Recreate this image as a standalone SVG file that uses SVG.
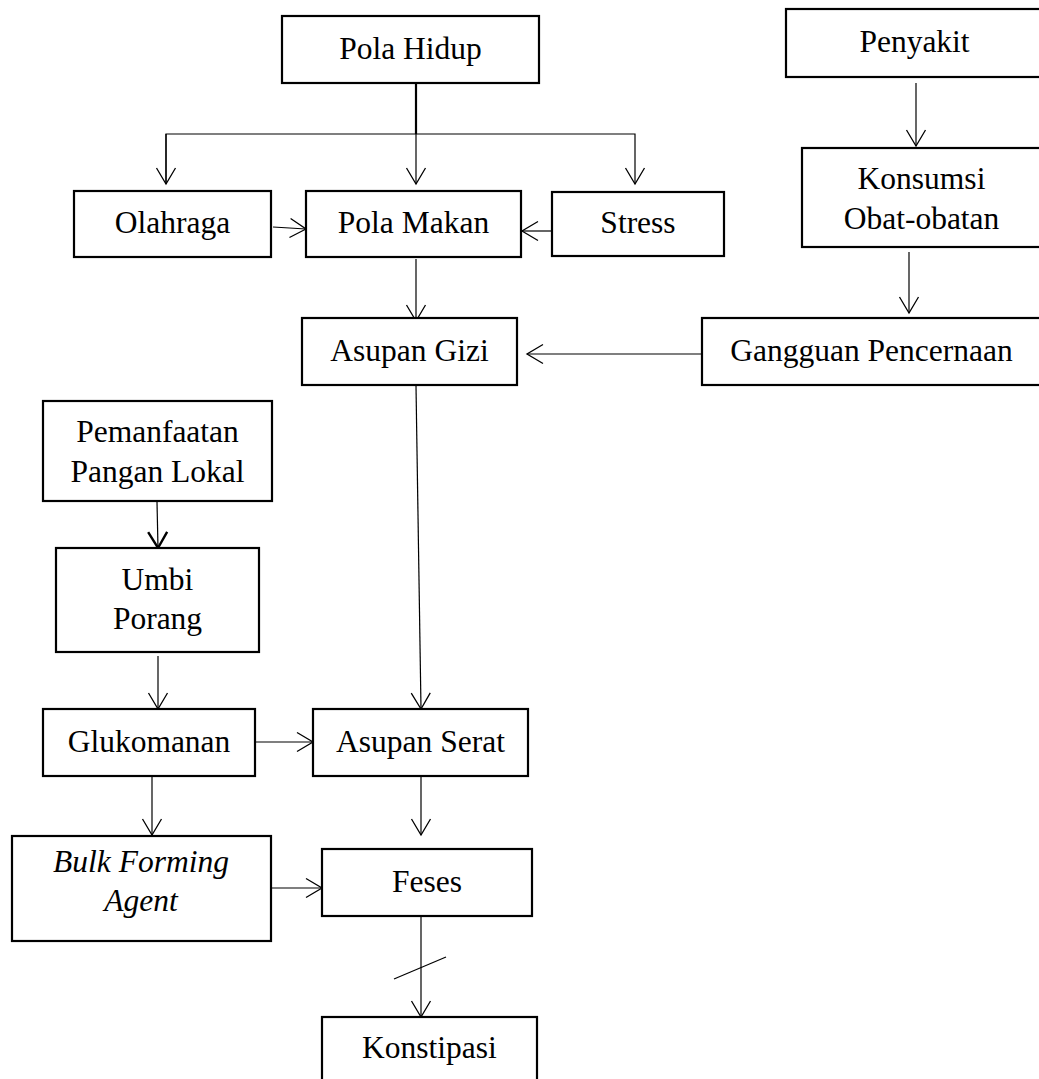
<svg xmlns="http://www.w3.org/2000/svg" width="1039" height="1079" viewBox="0 0 1039 1079">
<style>
.box{fill:#fff;stroke:#000;stroke-width:2.2}
.t{font-family:"Liberation Serif","Times New Roman",serif;font-size:31.5px;fill:#000;text-anchor:middle}
.i{font-style:italic}
.c{fill:none;stroke:#000;stroke-width:1.2}
</style>
<defs>
<marker id="ah" markerWidth="22" markerHeight="26" viewBox="-19 -13 22 26" refX="0" refY="0" orient="auto" markerUnits="userSpaceOnUse">
<path d="M-16,-9.5 L0,0 L-16,9.5" fill="none" stroke="#000" stroke-width="1.3"/>
</marker>
<marker id="ahb" markerWidth="22" markerHeight="26" viewBox="-19 -13 22 26" refX="0" refY="0" orient="auto" markerUnits="userSpaceOnUse">
<path d="M-16,-9.5 L0,0 L-16,9.5" fill="none" stroke="#000" stroke-width="2.4"/>
</marker>
</defs>
<rect width="1039" height="1079" fill="#fff"/>
<g id="connectors">
<line x1="416" y1="83" x2="416" y2="134" stroke="#000" stroke-width="2.2"/>
<polyline class="c" points="166,184 166,134 635,134 635,184" marker-end="url(#ah)"/>
<line class="c" x1="166" y1="134" x2="166" y2="184" marker-end="url(#ah)"/>
<line class="c" x1="416" y1="134" x2="416" y2="184" marker-end="url(#ah)"/>
<line class="c" x1="273" y1="227" x2="306" y2="229" marker-end="url(#ah)"/>
<line class="c" x1="552" y1="231" x2="522" y2="231" marker-end="url(#ah)"/>
<line class="c" x1="416" y1="259" x2="416" y2="321" marker-end="url(#ah)"/>
<line class="c" x1="916" y1="83" x2="916" y2="146" marker-end="url(#ah)"/>
<line class="c" x1="909" y1="252" x2="909" y2="313" marker-end="url(#ah)"/>
<line class="c" x1="702" y1="354" x2="527" y2="354" marker-end="url(#ah)"/>
<line class="c" x1="416" y1="386" x2="421" y2="709" marker-end="url(#ah)"/>
<line class="c" x1="157" y1="502" x2="158" y2="548" stroke-width="1.4" marker-end="url(#ahb)"/>
<line class="c" x1="158" y1="656" x2="158" y2="709" marker-end="url(#ah)"/>
<line class="c" x1="255" y1="742" x2="313" y2="742" marker-end="url(#ah)"/>
<line class="c" x1="152" y1="777" x2="152" y2="835" marker-end="url(#ah)"/>
<line class="c" x1="421" y1="777" x2="421" y2="835" marker-end="url(#ah)"/>
<line class="c" x1="262" y1="888" x2="322" y2="888" marker-end="url(#ah)"/>
<line class="c" x1="421" y1="917" x2="421" y2="1017" marker-end="url(#ah)"/>
<line class="c" x1="394" y1="979" x2="446" y2="957"/>
</g>
<g id="pola-hidup"><rect class="box" x="282" y="16" width="257" height="67"/><text class="t" x="410.5" y="58.5">Pola Hidup</text></g>
<g id="olahraga"><rect class="box" x="74" y="191" width="197" height="66"/><text class="t" x="172.5" y="233">Olahraga</text></g>
<g id="pola-makan"><rect class="box" x="306" y="191" width="215" height="66"/><text class="t" x="413.5" y="233">Pola Makan</text></g>
<g id="stress"><rect class="box" x="552" y="192" width="172" height="64"/><text class="t" x="638" y="233">Stress</text></g>
<g id="penyakit"><rect class="box" x="786" y="9" width="258" height="68"/><text class="t" x="914.5" y="52">Penyakit</text></g>
<g id="konsumsi"><rect class="box" x="802" y="148" width="242" height="99"/><text class="t" x="921.5" y="189">Konsumsi</text><text class="t" x="921.5" y="229">Obat-obatan</text></g>
<g id="gangguan"><rect class="box" x="702" y="318" width="342" height="67"/><text class="t" x="871.5" y="360.5">Gangguan Pencernaan</text></g>
<g id="asupan-gizi"><rect class="box" x="302" y="318" width="215" height="67"/><text class="t" x="409.5" y="360.5">Asupan Gizi</text></g>
<g id="pemanfaatan"><rect class="box" x="43" y="401" width="229" height="100"/><text class="t" x="157.5" y="442">Pemanfaatan</text><text class="t" x="157.5" y="482">Pangan Lokal</text></g>
<g id="umbi-porang"><rect class="box" x="56" y="548" width="203" height="104"/><text class="t" x="157.5" y="590">Umbi</text><text class="t" x="157.5" y="629">Porang</text></g>
<g id="glukomanan"><rect class="box" x="43" y="709" width="212" height="67"/><text class="t" x="149" y="751.5">Glukomanan</text></g>
<g id="asupan-serat"><rect class="box" x="313" y="709" width="215" height="67"/><text class="t" x="420.5" y="751.5">Asupan Serat</text></g>
<g id="bulk-forming-agent"><rect class="box" x="12" y="836" width="259" height="105"/><text class="t i" x="141" y="872">Bulk Forming</text><text class="t i" x="141" y="911">Agent</text></g>
<g id="feses"><rect class="box" x="322" y="849" width="210" height="67"/><text class="t" x="427" y="891.5">Feses</text></g>
<g id="konstipasi"><rect class="box" x="322" y="1017" width="215" height="80"/><text class="t" x="429.5" y="1058">Konstipasi</text></g>
</svg>
